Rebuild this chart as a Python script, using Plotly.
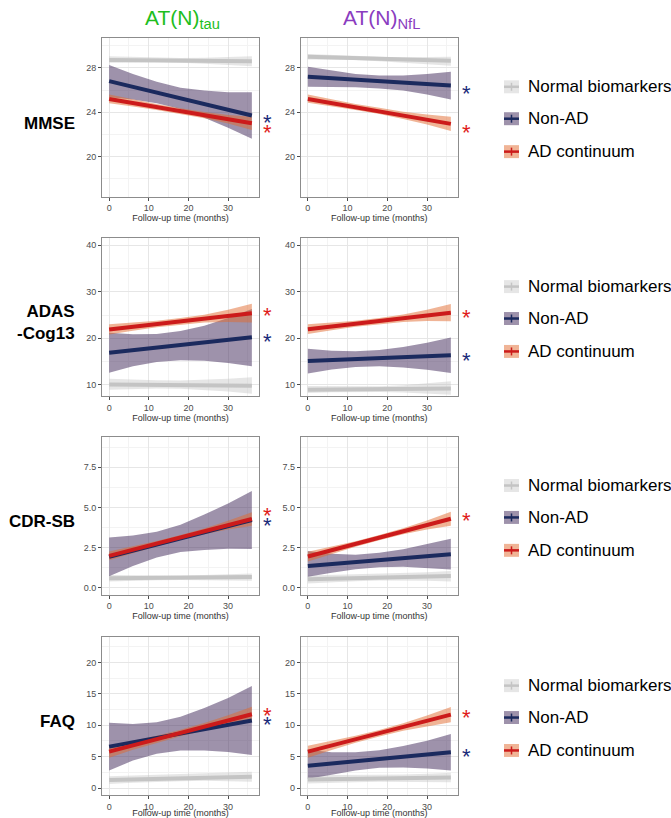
import plotly.graph_objects as go

# ---------------- data ----------------
TIME = [0, 6, 12, 18, 24, 30, 36]
LINE_X = [0, 36]

OUTCOMES = ["MMSE", "ADAS-Cog13", "CDR-SB", "FAQ"]
BIOMARKERS = ["tau", "NfL"]
GROUPS = ["Normal biomarkers", "Non-AD", "AD continuum"]

# MMSE
mmse_tau_normal_line = [28.7, 28.6]
mmse_tau_normal_hi = [29.05, 28.98, 28.92, 28.9, 28.92, 28.98, 29.05]
mmse_tau_normal_lo = [28.45, 28.48, 28.5, 28.45, 28.38, 28.28, 28.15]
mmse_tau_nonad_line = [26.8, 23.7]
mmse_tau_nonad_hi = [28.25, 27.45, 26.75, 26.2, 25.95, 25.8, 25.8]
mmse_tau_nonad_lo = [25.35, 25.15, 24.8, 24.3, 23.5, 22.6, 21.6]
mmse_tau_ad_line = [25.2, 23.0]
mmse_tau_ad_hi = [25.6, 25.15, 24.74, 24.35, 24.01, 23.75, 23.6]
mmse_tau_ad_lo = [24.8, 24.51, 24.2, 23.85, 23.45, 22.99, 22.4]

mmse_nfl_normal_line = [29.0, 28.65]
mmse_nfl_normal_hi = [29.25, 29.15, 29.1, 29.0, 28.95, 28.95, 29.0]
mmse_nfl_normal_lo = [28.75, 28.75, 28.7, 28.6, 28.5, 28.35, 28.2]
mmse_nfl_nonad_line = [27.2, 26.4]
mmse_nfl_nonad_hi = [28.1, 27.75, 27.45, 27.3, 27.3, 27.45, 27.65]
mmse_nfl_nonad_lo = [26.3, 26.3, 26.25, 26.15, 25.95, 25.6, 25.15]
mmse_nfl_ad_line = [25.2, 22.95]
mmse_nfl_ad_hi = [25.6, 25.15, 24.75, 24.4, 24.05, 23.8, 23.6]
mmse_nfl_ad_lo = [24.85, 24.5, 24.2, 23.85, 23.4, 22.9, 22.3]

# ADAS-Cog13
adas_tau_normal_line = [10.1, 9.8]
adas_tau_normal_hi = [11.3, 11.1, 11.0, 10.95, 11.05, 11.3, 11.65]
adas_tau_normal_lo = [8.95, 9.1, 9.2, 9.15, 8.95, 8.6, 8.1]
adas_tau_nonad_line = [16.9, 20.2]
adas_tau_nonad_hi = [21.2, 20.85, 20.9, 21.55, 22.7, 24.35, 26.3]
adas_tau_nonad_lo = [12.6, 14.0, 14.9, 15.3, 15.2, 14.7, 14.0]
adas_tau_ad_line = [21.9, 25.4]
adas_tau_ad_hi = [23.0, 23.33, 23.77, 24.35, 25.08, 26.12, 27.4]
adas_tau_ad_lo = [20.8, 21.63, 22.37, 22.95, 23.38, 23.52, 23.4]

adas_nfl_normal_line = [8.95, 9.2]
adas_nfl_normal_hi = [9.75, 9.7, 9.65, 9.7, 9.9, 10.3, 10.8]
adas_nfl_normal_lo = [8.25, 8.4, 8.5, 8.45, 8.35, 8.15, 7.9]
adas_nfl_nonad_line = [15.1, 16.35]
adas_nfl_nonad_hi = [17.75, 17.31, 17.22, 17.48, 18.13, 19.04, 20.15]
adas_nfl_nonad_lo = [12.45, 13.31, 13.82, 13.98, 13.73, 13.24, 12.55]
adas_nfl_ad_line = [21.95, 25.5]
adas_nfl_ad_hi = [23.0, 23.34, 23.78, 24.38, 25.12, 26.11, 27.35]
adas_nfl_ad_lo = [20.9, 21.74, 22.48, 23.08, 23.52, 23.71, 23.65]

# CDR-SB
cdr_tau_normal_line = [0.6, 0.68]
cdr_tau_normal_hi = [0.8, 0.78, 0.77, 0.78, 0.8, 0.84, 0.89]
cdr_tau_normal_lo = [0.4, 0.45, 0.48, 0.49, 0.49, 0.47, 0.44]
cdr_tau_nonad_line = [1.93, 4.22]
cdr_tau_nonad_hi = [3.13, 3.26, 3.49, 3.93, 4.56, 5.24, 6.02]
cdr_tau_nonad_lo = [0.73, 1.36, 1.89, 2.23, 2.36, 2.44, 2.42]
cdr_tau_ad_line = [1.99, 4.28]
cdr_tau_ad_hi = [2.26, 2.57, 2.91, 3.29, 3.7, 4.17, 4.7]
cdr_tau_ad_lo = [1.72, 2.17, 2.59, 2.99, 3.34, 3.63, 3.86]

cdr_nfl_normal_line = [0.54, 0.74]
cdr_nfl_normal_hi = [0.78, 0.82, 0.85, 0.88, 0.92, 0.98, 1.05]
cdr_nfl_normal_lo = [0.28, 0.36, 0.42, 0.46, 0.47, 0.44, 0.4]
cdr_nfl_nonad_line = [1.37, 2.1]
cdr_nfl_nonad_hi = [2.3, 2.12, 2.06, 2.19, 2.41, 2.73, 3.05]
cdr_nfl_nonad_lo = [0.7, 0.95, 1.16, 1.29, 1.31, 1.23, 1.15]
cdr_nfl_ad_line = [1.95, 4.3]
cdr_nfl_ad_hi = [2.25, 2.56, 2.9, 3.29, 3.71, 4.19, 4.73]
cdr_nfl_ad_lo = [1.65, 2.12, 2.56, 2.97, 3.33, 3.63, 3.87]

# FAQ
faq_tau_normal_line = [1.28, 1.8]
faq_tau_normal_hi = [1.9, 2.0, 2.1, 2.2, 2.3, 2.45, 2.6]
faq_tau_normal_lo = [0.65, 0.85, 1.0, 1.1, 1.15, 1.1, 1.0]
faq_tau_nonad_line = [6.6, 10.75]
faq_tau_nonad_hi = [10.4, 10.19, 10.48, 11.38, 12.77, 14.36, 16.25]
faq_tau_nonad_lo = [2.8, 4.39, 5.48, 5.98, 5.97, 5.76, 5.25]
faq_tau_ad_line = [5.8, 11.75]
faq_tau_ad_hi = [6.75, 7.49, 8.33, 9.3, 10.37, 11.61, 12.95]
faq_tau_ad_lo = [4.85, 6.09, 7.23, 8.26, 9.17, 9.91, 10.55]

faq_nfl_normal_line = [1.38, 1.7]
faq_nfl_normal_hi = [2.05, 2.05, 2.05, 2.1, 2.15, 2.3, 2.45]
faq_nfl_normal_lo = [0.72, 0.85, 0.95, 1.0, 1.0, 1.0, 0.95]
faq_nfl_nonad_line = [3.56, 5.7]
faq_nfl_nonad_hi = [6.1, 5.72, 5.72, 6.03, 6.69, 7.54, 8.6]
faq_nfl_nonad_lo = [1.5, 2.12, 2.82, 3.23, 3.29, 3.14, 2.8]
faq_nfl_ad_line = [5.8, 11.7]
faq_nfl_ad_hi = [6.75, 7.48, 8.32, 9.27, 10.33, 11.57, 12.9]
faq_nfl_ad_lo = [4.85, 6.08, 7.22, 8.23, 9.13, 9.87, 10.5]

# significance stars: (value, group)
stars_mmse_tau = [(23.5, "Non-AD"), (22.6, "AD continuum")]
stars_mmse_nfl = [(26.1, "Non-AD"), (22.6, "AD continuum")]
stars_adas_tau = [(26.0, "AD continuum"), (20.3, "Non-AD")]
stars_adas_nfl = [(25.55, "AD continuum"), (16.3, "Non-AD")]
stars_cdr_tau = [(4.8, "AD continuum"), (4.2, "Non-AD")]
stars_cdr_nfl = [(4.48, "AD continuum")]
stars_faq_tau = [(12.4, "AD continuum"), (10.85, "Non-AD")]
stars_faq_nfl = [(12.0, "AD continuum"), (5.8, "Non-AD")]

# axis settings per outcome
y_ranges = [[16.4, 30.7], [7.6, 41.6], [-0.41, 9.4], [-1.06, 24.1]]
y_ticks = [[20, 24, 28], [10, 20, 30, 40], [0, 2.5, 5, 7.5], [0, 5, 10, 15, 20]]
y_ticklabels = [["20", "24", "28"], ["10", "20", "30", "40"],
                ["0.0", "2.5", "5.0", "7.5"], ["0", "5", "10", "15", "20"]]
y_minor = [2, 5, 1.25, 2.5]
x_ticks = [0, 10, 20, 30]
row_labels = ["MMSE", "ADAS<br>-Cog13", "CDR-SB", "FAQ"]

panels = {
    ("MMSE", "tau"): [(mmse_tau_normal_line, mmse_tau_normal_lo, mmse_tau_normal_hi),
                      (mmse_tau_nonad_line, mmse_tau_nonad_lo, mmse_tau_nonad_hi),
                      (mmse_tau_ad_line, mmse_tau_ad_lo, mmse_tau_ad_hi)],
    ("MMSE", "NfL"): [(mmse_nfl_normal_line, mmse_nfl_normal_lo, mmse_nfl_normal_hi),
                      (mmse_nfl_nonad_line, mmse_nfl_nonad_lo, mmse_nfl_nonad_hi),
                      (mmse_nfl_ad_line, mmse_nfl_ad_lo, mmse_nfl_ad_hi)],
    ("ADAS-Cog13", "tau"): [(adas_tau_normal_line, adas_tau_normal_lo, adas_tau_normal_hi),
                            (adas_tau_nonad_line, adas_tau_nonad_lo, adas_tau_nonad_hi),
                            (adas_tau_ad_line, adas_tau_ad_lo, adas_tau_ad_hi)],
    ("ADAS-Cog13", "NfL"): [(adas_nfl_normal_line, adas_nfl_normal_lo, adas_nfl_normal_hi),
                            (adas_nfl_nonad_line, adas_nfl_nonad_lo, adas_nfl_nonad_hi),
                            (adas_nfl_ad_line, adas_nfl_ad_lo, adas_nfl_ad_hi)],
    ("CDR-SB", "tau"): [(cdr_tau_normal_line, cdr_tau_normal_lo, cdr_tau_normal_hi),
                        (cdr_tau_nonad_line, cdr_tau_nonad_lo, cdr_tau_nonad_hi),
                        (cdr_tau_ad_line, cdr_tau_ad_lo, cdr_tau_ad_hi)],
    ("CDR-SB", "NfL"): [(cdr_nfl_normal_line, cdr_nfl_normal_lo, cdr_nfl_normal_hi),
                        (cdr_nfl_nonad_line, cdr_nfl_nonad_lo, cdr_nfl_nonad_hi),
                        (cdr_nfl_ad_line, cdr_nfl_ad_lo, cdr_nfl_ad_hi)],
    ("FAQ", "tau"): [(faq_tau_normal_line, faq_tau_normal_lo, faq_tau_normal_hi),
                     (faq_tau_nonad_line, faq_tau_nonad_lo, faq_tau_nonad_hi),
                     (faq_tau_ad_line, faq_tau_ad_lo, faq_tau_ad_hi)],
    ("FAQ", "NfL"): [(faq_nfl_normal_line, faq_nfl_normal_lo, faq_nfl_normal_hi),
                     (faq_nfl_nonad_line, faq_nfl_nonad_lo, faq_nfl_nonad_hi),
                     (faq_nfl_ad_line, faq_nfl_ad_lo, faq_nfl_ad_hi)],
}
stars = {
    ("MMSE", "tau"): stars_mmse_tau, ("MMSE", "NfL"): stars_mmse_nfl,
    ("ADAS-Cog13", "tau"): stars_adas_tau, ("ADAS-Cog13", "NfL"): stars_adas_nfl,
    ("CDR-SB", "tau"): stars_cdr_tau, ("CDR-SB", "NfL"): stars_cdr_nfl,
    ("FAQ", "tau"): stars_faq_tau, ("FAQ", "NfL"): stars_faq_nfl,
}

# ---------------- style ----------------
W, H = 671, 818
FONT = "Liberation Sans, Arial, Helvetica, sans-serif"
line_colors = {"Normal biomarkers": "#C4C4C4", "Non-AD": "#1B2A5E", "AD continuum": "#CC1B1B"}
band_colors = {"Normal biomarkers": "rgba(195,195,195,0.42)",
               "Non-AD": "rgba(62,38,88,0.5)",
               "AD continuum": "rgba(225,105,45,0.5)"}
star_colors = {"Non-AD": "#1B2A7A", "AD continuum": "#E01B1B"}
title_colors = {"tau": "#1EBE1E", "NfL": "#8A3CC0"}

col_px = [(102, 259), (300.7, 458)]
row_px = [(38, 197), (238.3, 397), (437.7, 596), (638.3, 796.7)]


def px_x(x):
    return x / W


def px_y(y):
    return 1 - y / H


fig = go.Figure()
annotations = []
shapes = []

for r, outcome in enumerate(OUTCOMES):
    for c, bm in enumerate(BIOMARKERS):
        n = r * 2 + c + 1
        xa = "x" if n == 1 else f"x{n}"
        ya = "y" if n == 1 else f"y{n}"
        groups = panels[(outcome, bm)]
        # bands
        for g, (ln, lo, hi) in zip(GROUPS, groups):
            fig.add_trace(go.Scatter(
                x=TIME + TIME[::-1], y=hi + lo[::-1], fill="toself",
                fillcolor=band_colors[g], line=dict(width=0), mode="lines",
                hoverinfo="skip", showlegend=False, xaxis=xa, yaxis=ya))
        # lines
        for g, (ln, lo, hi) in zip(GROUPS, groups):
            fig.add_trace(go.Scatter(
                x=LINE_X, y=ln, mode="lines", name=g,
                line=dict(color=line_colors[g], width=4),
                showlegend=False, xaxis=xa, yaxis=ya))
        x0, x1 = col_px[c]
        y0, y1 = row_px[r]
        ax_common = dict(showline=True, mirror=True, linecolor="#8C8C8C", linewidth=1,
                         ticks="outside", ticklen=3, tickcolor="#4D4D4D", tickwidth=1,
                         tickfont=dict(family=FONT, size=9, color="#4D4D4D"),
                         showgrid=True, gridcolor="#E6E6E6", gridwidth=1,
                         zeroline=False)
        fig.layout[f"xaxis{'' if n == 1 else n}"] = dict(
            ax_common, domain=[px_x(x0), px_x(x1)], range=[-1.8, 37.8],
            anchor=ya, tickvals=x_ticks,
            minor=dict(showgrid=True, gridcolor="#F3F3F3", dtick=5, tick0=0),
            title=dict(text="Follow-up time (months)", standoff=0,
                       font=dict(family=FONT, size=9, color="#333333")))
        fig.layout[f"yaxis{'' if n == 1 else n}"] = dict(
            ax_common, domain=[px_y(y1), px_y(y0)], range=y_ranges[r],
            anchor=xa, tickvals=y_ticks[r], ticktext=y_ticklabels[r],
            minor=dict(showgrid=True, gridcolor="#F3F3F3", dtick=y_minor[r],
                       tick0=y_ticks[r][0]))
        # stars
        for val, g in stars[(outcome, bm)]:
            annotations.append(dict(
                text="*", x=1.051, xref=f"{xa} domain", y=val, yref=ya,
                showarrow=False, xanchor="center", yanchor="middle", yshift=-5,
                font=dict(family=FONT, size=22, color=star_colors[g])))

    # row label
    yc = (row_px[r][0] + row_px[r][1]) / 2 + 6
    annotations.append(dict(
        text=f"<b>{row_labels[r]}</b>", x=px_x(77), y=px_y(yc), xref="paper", yref="paper",
        xanchor="right", yanchor="middle", align="right", showarrow=False,
        font=dict(family=FONT, size=17, color="black")))

    # legend (drawn per row)
    leg_y = [row_px[r][0] + 49, row_px[r][0] + 81, row_px[r][0] + 114]
    for g, ly in zip(GROUPS, leg_y):
        shapes.append(dict(type="rect", xref="paper", yref="paper",
                           x0=px_x(504), x1=px_x(519), y0=px_y(ly + 6.5), y1=px_y(ly - 6.5),
                           fillcolor=band_colors[g], line=dict(width=0)))
        shapes.append(dict(type="line", xref="paper", yref="paper",
                           x0=px_x(504), x1=px_x(519), y0=px_y(ly), y1=px_y(ly),
                           line=dict(color=line_colors[g], width=2.5)))
        shapes.append(dict(type="line", xref="paper", yref="paper",
                           x0=px_x(511.5), x1=px_x(511.5), y0=px_y(ly - 4), y1=px_y(ly + 4),
                           line=dict(color=line_colors[g], width=1.5)))
        annotations.append(dict(
            text=g, x=px_x(526), y=px_y(ly), xref="paper", yref="paper",
            xanchor="left", yanchor="middle", showarrow=False,
            font=dict(family=FONT, size=17, color="black")))

# column titles
for c, bm in enumerate(BIOMARKERS):
    x0, x1 = col_px[c]
    annotations.append(dict(
        text=f"AT(N)<sub>{bm}</sub>", x=px_x((x0 + x1) / 2 + 2), y=px_y(34),
        xref="paper", yref="paper", xanchor="center", yanchor="bottom", showarrow=False,
        font=dict(family=FONT, size=21, color=title_colors[bm])))

fig.update_layout(
    width=W, height=H, margin=dict(l=0, r=0, t=0, b=0),
    paper_bgcolor="white", plot_bgcolor="white",
    annotations=annotations, shapes=shapes, showlegend=False,
    font=dict(family=FONT))

fig.write_html("out.html", config={"displayModeBar": False},
               post_script="document.body.style.margin='0';")
